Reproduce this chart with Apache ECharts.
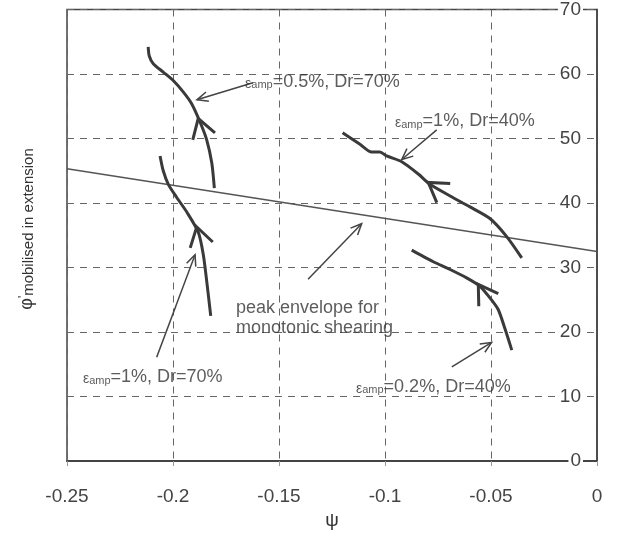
<!DOCTYPE html>
<html><head><meta charset="utf-8">
<script src="https://cdn.jsdelivr.net/npm/echarts@6/dist/echarts.min.js"></script>
<style>html,body{margin:0;padding:0;background:#fff}#c{width:623px;height:535px}</style>
</head><body><div id="c"></div>
<script>
// ---- data (ψ, φ' mobilised in extension) ----
const curve05Dr70 = [[-0.1805,42.3],[-0.1817,46.2],[-0.1841,49.8],[-0.1873,52.6],[-0.1912,55.4],[-0.1951,57.2],[-0.1999,59.0],[-0.2046,60.3],[-0.2093,61.6],[-0.2112,62.8],[-0.2117,64.2]];
const curve1Dr70 = [[-0.1822,22.5],[-0.1841,27.9],[-0.1857,32.0],[-0.1881,35.5],[-0.1935,38.6],[-0.1983,40.9],[-0.2022,42.9],[-0.2046,45.0],[-0.2061,47.3]];
const curve1Dr40 = [[-0.0355,31.5],[-0.0426,34.8],[-0.0505,37.6],[-0.0599,39.4],[-0.0693,41.1],[-0.0788,42.9],[-0.0843,44.5],[-0.0921,46.4],[-0.0992,47.3],[-0.1024,47.9],[-0.1063,47.9],[-0.1118,49.1],[-0.1200,50.9]];
const curve02Dr40 = [[-0.0402,17.2],[-0.0434,20.5],[-0.0466,23.5],[-0.0505,25.3],[-0.0552,27.1],[-0.0615,28.4],[-0.0693,29.7],[-0.0772,30.9],[-0.0835,32.0],[-0.0874,32.7]];
const peakEnvelope = [[-0.25,45.3],[0,32.5]];
// direction arrowheads on curves: [fromX, fromY, tipX, tipY]
const curveArrows = [[-0.1853,50.2,-0.1881,53.1],[-0.1864,33.3,-0.1888,36.3],[-0.0718,41.4,-0.0796,43.2],[-0.0508,24.8,-0.0560,27.4]];
// annotation pointers: [tailX, tailY, tipX, tipY]
const pointerArrows = [[-0.1623,58.65,-0.1887,56.0],[-0.0756,51.35,-0.0921,46.75],[-0.1363,28.2,-0.111,36.8],[-0.2077,16.1,-0.1896,32.0],[-0.0685,14.6,-0.0497,18.4]];
// annotation labels
const labelPos = [[-0.166,58.8],[-0.0953,52.7],[-0.2425,13.0],[-0.1137,11.5]];
const labelAmp = ['0.5%','1%','1%','0.2%'];
const labelDr = ['70%','40%','70%','40%'];
const envelopePos = [[-0.1703,22.2]];
const envelopeText = ['peak envelope for','monotonic shearing'];

const FONT = '"Liberation Sans", Arial, sans-serif';
const INK = '#333';

function arrowRender(len, ang, withShaft, width, color) {
  return function (params, api) {
    const a = api.coord([api.value(0), api.value(1)]);
    const b = api.coord([api.value(2), api.value(3)]);
    let dx = a[0] - b[0], dy = a[1] - b[1];
    const d = Math.hypot(dx, dy) || 1; dx /= d; dy /= d;
    const r = (t) => [b[0] + len * (dx * Math.cos(t) - dy * Math.sin(t)), b[1] + len * (dx * Math.sin(t) + dy * Math.cos(t))];
    const children = [{type: 'polyline', shape: {points: [r(ang), b, r(-ang)]}, style: {stroke: color, lineWidth: width, fill: null}}];
    if (withShaft) children.push({type: 'line', shape: {x1: a[0], y1: a[1], x2: b[0], y2: b[1]}, style: {stroke: color, lineWidth: width}});
    return {type: 'group', children};
  };
}

const curveStyle = {color: '#3a3a3a', width: 3};
function curveSeries(data) {
  return {type: 'line', data, showSymbol: false, symbol: 'none', smooth: 0.25, lineStyle: curveStyle, z: 3, silent: true};
}

const chart = echarts.init(document.getElementById('c'), null, {renderer: 'canvas'});
chart.setOption({
  animation: false,
  backgroundColor: '#fff',
  textStyle: {fontFamily: FONT},
  grid: {left: 67, right: 26, top: 5, bottom: 73, show: true, borderColor: '#444', borderWidth: 1.5},
  xAxis: {
    type: 'value', min: -0.25, max: 0, interval: 0.05,
    name: 'ψ', nameLocation: 'middle', nameGap: 46,
    nameTextStyle: {fontSize: 19, color: INK, fontFamily: FONT},
    axisLine: {show: true, lineStyle: {color: '#444', width: 2}},
    axisTick: {show: true, inside: false, length: 5, lineStyle: {color: '#999'}},
    axisLabel: {fontSize: 19, color: '#444', margin: 26, fontFamily: FONT},
    splitLine: {show: true, lineStyle: {color: '#666', type: [7, 6], width: 1}}
  },
  yAxis: {
    type: 'value', min: 0, max: 70, interval: 10, position: 'right',
    axisLine: {show: true, lineStyle: {color: '#444', width: 1.5}},
    axisTick: {show: false},
    axisLabel: {inside: true, margin: 14, fontSize: 19, color: '#444', fontFamily: FONT, backgroundColor: '#fff', padding: [0, 2]},
    splitLine: {show: true, lineStyle: {color: '#666', type: [7, 6], width: 1}}
  },
  graphic: [{
    type: 'text', x: 27, y: 229, rotation: Math.PI / 2,
    style: {
      text: '{p|φ}{q|\'}{s|mobilised in extension}',
      align: 'center', verticalAlign: 'middle', fill: INK,
      rich: {
        p: {fontSize: 18, fontFamily: FONT, fill: INK, verticalAlign: 'bottom'},
        q: {fontSize: 12, fontFamily: FONT, fill: INK, verticalAlign: 'top'},
        s: {fontSize: 15, fontFamily: FONT, fill: INK, verticalAlign: 'bottom', padding: [0, 0, 0, 0]}
      }
    }
  }],
  series: [
    {type: 'line', data: peakEnvelope, showSymbol: false, symbol: 'none', lineStyle: {color: '#555', width: 1.5}, z: 2, silent: true},
    curveSeries(curve05Dr70),
    curveSeries(curve1Dr70),
    curveSeries(curve1Dr40),
    curveSeries(curve02Dr40),
    {type: 'custom', data: curveArrows, renderItem: arrowRender(22, 32 * Math.PI / 180, false, 3, '#3a3a3a'),
      encode: {x: [0, 2], y: [1, 3]}, z: 4, silent: true},
    {type: 'custom', data: pointerArrows, renderItem: arrowRender(12, 24 * Math.PI / 180, true, 1.5, '#444'),
      encode: {x: [0, 2], y: [1, 3]}, z: 4, silent: true},
    {type: 'scatter', symbolSize: 0, z: 5, silent: true,
      data: labelPos.map((p, i) => ({value: p, amp: labelAmp[i], dr: labelDr[i]})),
      label: {
        show: true, position: 'right', distance: 0,
        formatter: (p) => '{e|ε}{s|amp}{m|=' + p.data.amp + ', Dr=' + p.data.dr + '}',
        rich: {
          e: {fontSize: 14, fontFamily: FONT, color: INK, verticalAlign: 'bottom'},
          s: {fontSize: 11, fontFamily: FONT, color: INK, verticalAlign: 'bottom'},
          m: {fontSize: 18, fontFamily: FONT, color: INK, verticalAlign: 'bottom'}
        }
      }
    },
    {type: 'scatter', symbolSize: 0, z: 5, silent: true,
      data: envelopePos,
      label: {show: true, position: 'right', distance: 0, formatter: envelopeText.join('\n'),
        fontSize: 18, lineHeight: 20, fontFamily: FONT, color: INK}
    }
  ]
});
</script>
</body></html>
